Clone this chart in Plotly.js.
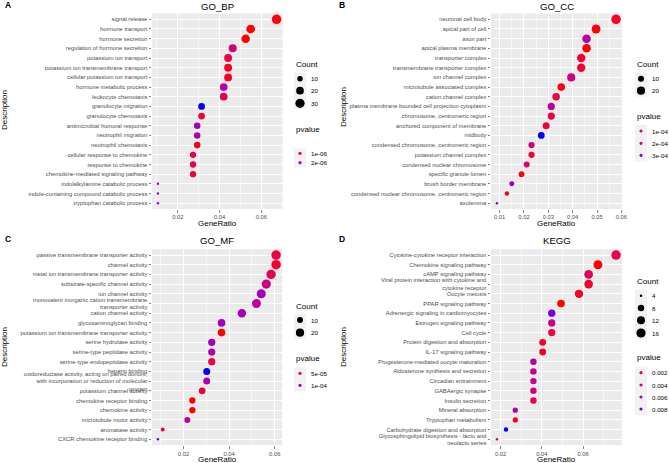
<!DOCTYPE html>
<html><head><meta charset="utf-8">
<script src="https://cdn.plot.ly/plotly-3.0.1.min.js"></script>
<style>html,body{margin:0;padding:0;background:#fff}#chart{width:669px;height:463px}</style>
</head><body><div id="chart"></div>
<script>
// ---------- DATA ----------
const bpTerms = ["signal release","hormone transport","hormone secretion","regulation of hormone secretion","potassium ion transport","potassium ion transmembrane transport","cellular potassium ion transport","hormone metabolic process","leukocyte chemotaxis","granulocyte migration","granulocyte chemotaxis","antimicrobial humoral response","neutrophil migration","neutrophil chemotaxis","cellular response to chemokine","response to chemokine","chemokine-mediated signaling pathway","indolalkylamine catabolic process","indole-containing compound catabolic process","tryptophan catabolic process"];
const bpRatio = [0.0673,0.0549,0.0525,0.0463,0.0441,0.0441,0.0441,0.0420,0.0420,0.0314,0.0314,0.0293,0.0293,0.0293,0.0273,0.0273,0.0273,0.0105,0.0105,0.0105];
const bpCount = [32,26,25,22,21,21,21,20,20,15,15,14,14,14,13,13,13,5,5,5];
const bpP = [3.5e-7,3.0e-7,3.2e-7,1.3e-6,8e-7,5e-7,5e-7,1.8e-6,1.1e-6,2.8e-6,6e-7,2.1e-6,1.9e-6,4.5e-7,9e-7,9e-7,7e-7,2.2e-6,2.2e-6,2.2e-6];

const ccTerms = ["neuronal cell body","apical part of cell","axon part","apical plasma membrane","transporter complex","transmembrane transporter complex","ion channel complex","microtubule associated complex","cation channel complex","plasma membrane bounded cell projection cytoplasm","chromosome, centromeric region","anchored component of membrane","midbody","condensed chromosome, centromeric region","potassium channel complex","condensed nuclear chromosome","specific granule lumen","brush border membrane","condensed nuclear chromosome, centromeric region","axolemma"];
const ccRatio = [0.0578,0.0496,0.0457,0.0457,0.0435,0.0435,0.0394,0.0353,0.0332,0.0312,0.0312,0.0291,0.0271,0.0231,0.0231,0.0211,0.0190,0.0150,0.0130,0.0089];
const ccCount = [28,24,22,22,21,21,19,17,16,15,15,14,13,11,11,10,9,7,6,4];
const ccP = [4e-5,1.5e-5,2.3e-4,1e-5,6e-5,6e-5,1.8e-4,2e-5,8e-5,2.4e-4,8e-5,7e-5,3.8e-4,1.8e-4,6e-5,1.5e-4,1.5e-5,3e-4,5e-5,3.1e-4];

const mfTerms = ["passive transmembrane transporter activity","channel activity","metal ion transmembrane transporter activity","substrate-specific channel activity","ion channel activity","monovalent inorganic cation transmembrane<br>transporter activity","cation channel activity","glycosaminoglycan binding","potassium ion transmembrane transporter activity","serine hydrolase activity","serine-type peptidase activity","serine-type endopeptidase activity","heparin binding","oxidoreductase activity, acting on paired donors,<br>with incorporation or reduction of molecular<br>oxygen","potassium channel activity","chemokine receptor binding","chemokine activity","microtubule motor activity","aromatase activity","CXCR chemokine receptor binding"];
const mfRatio = [0.0606,0.0606,0.0584,0.0563,0.0541,0.0520,0.0456,0.0367,0.0367,0.0324,0.0324,0.0324,0.0302,0.0302,0.0282,0.0239,0.0239,0.0217,0.0109,0.0088];
const mfCount = [28,28,27,26,25,24,21,17,17,15,15,15,14,14,13,11,11,10,5,4];
const mfP = [3.5e-5,2.5e-5,4.5e-5,7e-5,1e-4,8.5e-5,1.02e-4,1.02e-4,1.2e-5,1.02e-4,9.5e-5,4e-5,1.4e-4,9.5e-5,3e-5,1.2e-5,1e-5,8e-5,3e-5,1.25e-4];

const keggTerms = ["Cytokine-cytokine receptor interaction","Chemokine signaling pathway","cAMP signaling pathway","Viral protein interaction with cytokine and<br>cytokine receptor","Oocyte meiosis","PPAR signaling pathway","Adrenergic signaling in cardiomyocytes","Estrogen signaling pathway","Cell cycle","Protein digestion and absorption","IL-17 signaling pathway","Progesterone-mediated oocyte maturation","Aldosterone synthesis and secretion","Circadian entrainment","GABAergic synapse","Insulin secretion","Mineral absorption","Tryptophan metabolism","Carbohydrate digestion and absorption","Glycosphingolipid biosynthesis - lacto and<br>neolacto series"];
const keggRatio = [0.0760,0.0672,0.0627,0.0627,0.0580,0.0493,0.0448,0.0448,0.0448,0.0404,0.0404,0.0359,0.0359,0.0359,0.0359,0.0359,0.0271,0.0271,0.0226,0.0182];
const keggCount = [17,15,14,14,13,11,10,10,10,9,9,8,8,8,8,8,6,6,5,4];
const keggP = [0.0025,0.0007,0.003,0.0015,0.0012,0.0006,0.0078,0.0048,0.002,0.0015,0.0015,0.0058,0.005,0.005,0.0042,0.0025,0.0058,0.001,0.0088,0.0045];

const bpSizeBreaks=[10,20,30], ccSizeBreaks=[10,20], mfSizeBreaks=[10,20], keggSizeBreaks=[4,8,12,16];
const bpPBreaks=[1e-6,2e-6], ccPBreaks=[1e-4,2e-4,3e-4], mfPBreaks=[5e-5,1e-4], keggPBreaks=[0.002,0.004,0.006,0.008];
const bpPLabels=["1e-06","2e-06"], ccPLabels=["1e-04","2e-04","3e-04"], mfPLabels=["5e-05","1e-04"], keggPLabels=["0.002","0.004","0.006","0.008"];

// ---------- helpers ----------
const W=669,H=463;
const px=x=>x/W, py=y=>1-y/H;
const FONT='"Liberation Sans", Arial, Helvetica, sans-serif';
function s2l(c){c/=255;return c<=0.04045?c/12.92:Math.pow((c+0.055)/1.055,2.4);}
function l2s(c){const v=c<=0.0031308?12.92*c:1.055*Math.pow(Math.max(c,0),1/2.4)-0.055;return Math.round(Math.max(0,Math.min(1,v))*255);}
function rgbToLab(rgb){const R=s2l(rgb[0]),G=s2l(rgb[1]),B=s2l(rgb[2]);
 const X=(0.4124564*R+0.3575761*G+0.1804375*B)/0.95047,Y=0.2126729*R+0.7151522*G+0.0721750*B,Z=(0.0193339*R+0.1191920*G+0.9503041*B)/1.08883;
 const f=t=>t>0.008856?Math.cbrt(t):(7.787*t+16/116);const fx=f(X),fy=f(Y),fz=f(Z);
 return [116*fy-16,500*(fx-fy),200*(fy-fz)];}
function labToRgb(lab){const fy=(lab[0]+16)/116,fx=fy+lab[1]/500,fz=fy-lab[2]/200;
 const fi=t=>t*t*t>0.008856?t*t*t:(t-16/116)/7.787;const X=fi(fx)*0.95047,Y=fi(fy),Z=fi(fz)*1.08883;
 const R=3.2404542*X-1.5371385*Y-0.4985314*Z,G=-0.9692660*X+1.8760108*Y+0.0415560*Z,B=0.0556434*X-0.2040259*Y+1.0572252*Z;
 return 'rgb('+l2s(R)+','+l2s(G)+','+l2s(B)+')';}
const LOW=rgbToLab([255,0,0]),HIGH=rgbToLab([0,0,255]);
function colOf(p,mn,mx){const t=Math.max(0,Math.min(1,(p-mn)/(mx-mn)));return labToRgb(LOW.map((v,i)=>v+(HIGH[i]-v)*t));}
function sizeOf(c,mn,mx){const s=1+5*Math.sqrt((c-mn)/(mx-mn));return 1.4*s+1.1;}

const panels=[
 {terms:bpTerms,ratio:bpRatio,count:bpCount,p:bpP,x0:152,x1:282.5,y0:13.5,y1:209,title:'GO_BP',letter:'A',dtick:0.02,
  sb:bpSizeBreaks,pb:bpPBreaks,pl:bpPLabels,ctx:294,cty:64,cys:[78.7,90.7,103.3],kx:300,lx:309,pty:129.3,pys:[153.3,162.7],
  descX:4,descY:110,grY:224,letX:3,letY:5,titY:7},
 {terms:ccTerms,ratio:ccRatio,count:ccCount,p:ccP,x0:491,x1:622,y0:13.5,y1:209,title:'GO_CC',letter:'B',dtick:0.01,
  sb:ccSizeBreaks,pb:ccPBreaks,pl:ccPLabels,ctx:635,cty:64,cys:[78.7,90.7],kx:641,lx:650,pty:116.7,pys:[131,143.3,155.3],
  descX:343,descY:107,grY:224,letX:337,letY:5,titY:7},
 {terms:mfTerms,ratio:mfRatio,count:mfCount,p:mfP,x0:152,x1:282,y0:249.2,y1:445.1,title:'GO_MF',letter:'C',dtick:0.02,
  sb:mfSizeBreaks,pb:mfPBreaks,pl:mfPLabels,ctx:294,cty:306.7,cys:[320,332.7],kx:300,lx:309,pty:358.7,pys:[373.3,385.3],
  descX:4,descY:347,grY:459.5,letX:3,letY:239,titY:241},
 {terms:keggTerms,ratio:keggRatio,count:keggCount,p:keggP,x0:491,x1:622,y0:249.2,y1:445.1,title:'KEGG',letter:'D',dtick:0.02,
  sb:keggSizeBreaks,pb:keggPBreaks,pl:keggPLabels,ctx:635,cty:281.7,cys:[295.7,308,320.3,333],kx:641,lx:650,pty:357.7,pys:[372.7,385,397,409],
  descX:343,descY:347,grY:459.5,letX:337,letY:239,titY:241}
];

const traces=[], layout={width:W,height:H,margin:{l:0,r:0,t:0,b:0},paper_bgcolor:'#fff',plot_bgcolor:'#EBEBEB',showlegend:false,
 font:{family:FONT,color:'#000'},annotations:[],shapes:[]};
function ann(text,x,y,o){layout.annotations.push(Object.assign({text:text,x:px(x),y:py(y),xref:'paper',yref:'paper',showarrow:false,xanchor:'center',yanchor:'middle',font:{family:FONT,size:8,color:'#000'}},o||{}));}
function dot(cx,cy,d,color){const r=d/2;layout.shapes.push({type:'circle',xref:'paper',yref:'paper',xsizemode:'pixel',ysizemode:'pixel',xanchor:px(cx),yanchor:py(cy),x0:-r,x1:r,y0:-r,y1:r,fillcolor:color,line:{width:0},layer:'above'});}
function rect(x0,y0,x1,y1,c){layout.shapes.push({type:'rect',xref:'paper',yref:'paper',x0:px(x0),x1:px(x1),y0:py(y1),y1:py(y0),fillcolor:c,line:{width:0},layer:'below'});}

panels.forEach((P,i)=>{
 const k=i+1, xa='x'+(k===1?'':k), ya='y'+(k===1?'':k);
 const n=P.terms.length;
 const cmin=Math.min(...P.count),cmax=Math.max(...P.count);
 const pmin=Math.min(...P.p),pmax=Math.max(...P.p);
 const rmin=Math.min(...P.ratio),rmax=Math.max(...P.ratio),pad=(rmax-rmin)*0.05;
 const yIdx=P.terms.map((t,j)=>n-1-j);
 traces.push({type:'scatter',mode:'markers',x:P.ratio,y:yIdx,xaxis:xa,yaxis:ya,
  marker:{size:P.count.map(c=>sizeOf(c,cmin,cmax)),color:P.p.map(v=>colOf(v,pmin,pmax)),line:{width:0},opacity:1},hoverinfo:'skip'});
 const tv=[];for(let v=Math.ceil((rmin-pad)/P.dtick-1e-9)*P.dtick;v<=rmax+pad+1e-12;v+=P.dtick)tv.push(+v.toFixed(4));
 layout['xaxis'+(k===1?'':k)]={domain:[px(P.x0),px(P.x1)],anchor:ya,range:[rmin-pad,rmax+pad],tickmode:'array',tickvals:tv,
  ticktext:tv.map(v=>v.toFixed(2)),ticks:'outside',ticklen:2.5,tickwidth:0.6,tickcolor:'#333',showgrid:true,gridcolor:'#fff',gridwidth:1,
  zeroline:false,showline:false,tickfont:{family:FONT,size:5.8,color:'#4D4D4D'},automargin:false,fixedrange:true,
  minor:{tickmode:'array',tickvals:tv.map(v=>+(v-P.dtick/2).toFixed(4)).concat([+(tv[tv.length-1]+P.dtick/2).toFixed(4)]),showgrid:true,gridcolor:'#fff',gridwidth:0.5,ticks:''}};
 layout['yaxis'+(k===1?'':k)]={domain:[py(P.y1),py(P.y0)],anchor:xa,range:[-0.6,n-0.4],tickmode:'array',tickvals:yIdx,ticktext:P.terms,
  ticks:'outside',ticklen:2.5,tickwidth:0.6,tickcolor:'#333',showgrid:true,gridcolor:'#fff',gridwidth:1,zeroline:false,showline:false,
  tickfont:{family:FONT,size:5.8,color:'#4D4D4D'},automargin:false,fixedrange:true};
 // texts
 ann(P.title,(P.x0+P.x1)/2,P.titY,{font:{family:FONT,size:9.6,color:'#000'}});
 ann(P.letter,P.letX,P.letY,{xanchor:'left',font:{family:FONT,size:8.5,color:'#000',weight:'bold'}});
 ann('GeneRatio',(P.x0+P.x1)/2,P.grY,{font:{family:FONT,size:8,color:'#000'}});
 ann('Description',P.descX,P.descY,{textangle:-90,font:{family:FONT,size:8,color:'#000'}});
 // size legend
 ann('Count',P.ctx,P.cty,{xanchor:'left',font:{family:FONT,size:8,color:'#000'}});
 const cs=P.cys.length>1?P.cys[1]-P.cys[0]:12;
 rect(P.kx-6,P.cys[0]-cs/2,P.kx+6,P.cys[P.cys.length-1]+cs/2,'#F2F2F2');
 P.sb.forEach((b,j)=>{dot(P.kx,P.cys[j],sizeOf(b,cmin,cmax),'#000');ann(String(b),P.lx,P.cys[j],{xanchor:'left',font:{family:FONT,size:6.2,color:'#000'}});});
 // pvalue legend
 ann('pvalue',P.ctx,P.pty,{xanchor:'left',font:{family:FONT,size:8,color:'#000'}});
 const ps=P.pys.length>1?P.pys[1]-P.pys[0]:12;
 rect(P.kx-6,P.pys[0]-ps/2,P.kx+6,P.pys[P.pys.length-1]+ps/2,'#F2F2F2');
 P.pb.forEach((b,j)=>{dot(P.kx,P.pys[j],3.2,colOf(b,pmin,pmax));ann(P.pl[j],P.lx,P.pys[j],{xanchor:'left',font:{family:FONT,size:6.2,color:'#000'}});});
});

Plotly.newPlot('chart',traces,layout,{staticPlot:true,displayModeBar:false});
</script></body></html>
